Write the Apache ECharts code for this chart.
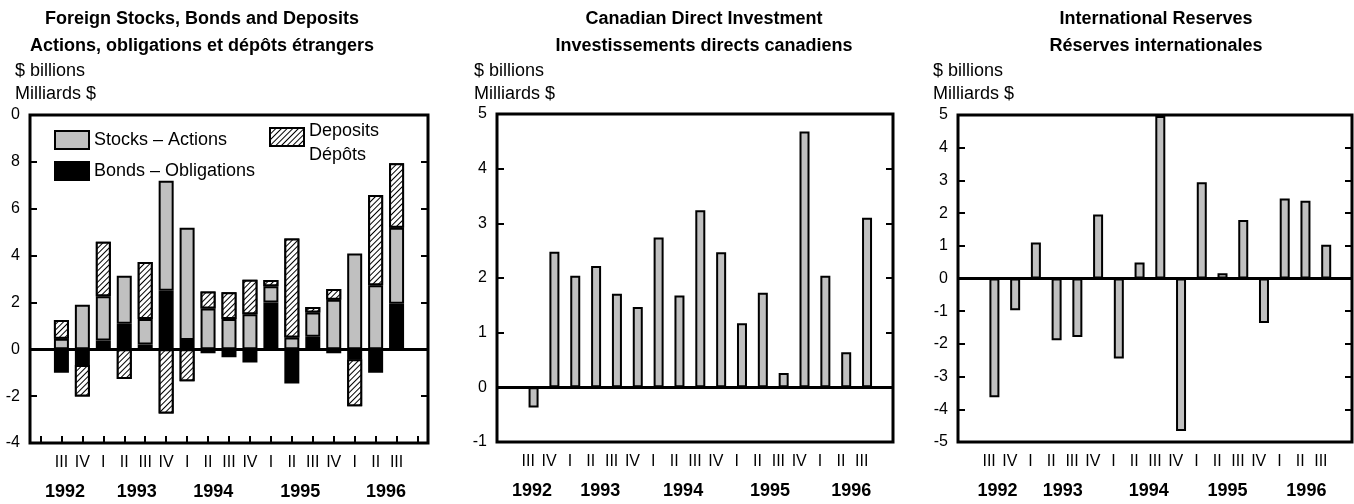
<!DOCTYPE html>
<html>
<head>
<meta charset="utf-8">
<title>Foreign investment charts</title>
<script src="https://cdn.jsdelivr.net/npm/echarts@6/dist/echarts.min.js"></script>
<style>
html, body { margin: 0; padding: 0; background: #fff; }
#chart { width: 1354px; height: 504px; }
</style>
</head>
<body>
<div id="chart"></div>
<script>
// quarter slots, with an empty slot at each end
const quarters = ['', 'III', 'IV', 'I', 'II', 'III', 'IV', 'I', 'II', 'III', 'IV', 'I', 'II', 'III', 'IV', 'I', 'II', 'III', '']
const years = ['1992', '1993', '1994', '1995', '1996']

// Foreign stocks, bonds and deposits ($ billions), 1992 III .. 1996 III
const stocks = [0.45, 1.9, 1.89, 2.05, 1.09, 4.69, 4.79, 1.74, 1.29, 1.5, 0.69, 0.5, 1.03, 2.11, 4.09, 2.73, 3.25]
const bonds = [-1.0, -0.67, 0.37, 1.09, 0.2, 2.5, 0.4, -0.17, -0.34, -0.56, 2.0, -1.46, 0.54, -0.17, -0.43, -1.0, 1.94]
const deposits = [0.8, -1.35, 2.33, -1.27, 2.44, -2.74, -1.36, 0.73, 1.14, 1.47, 0.27, 4.23, 0.23, 0.46, -2.0, 3.86, 2.75]

// Canadian direct investment
const directInv = [-0.37, 2.48, 2.04, 2.22, 1.71, 1.47, 2.74, 1.68, 3.24, 2.47, 1.17, 1.73, 0.26, 4.68, 2.04, 0.64, 3.10]

// International reserves
const reserves = [-3.63, -0.97, 1.10, -1.89, -1.79, 1.96, -2.45, 0.49, 4.97, -4.66, 2.94, 0.16, 1.79, -1.36, 2.45, 2.38, 1.03]

const FONT = '"Liberation Sans", Arial, sans-serif'
const GRAY = '#c0c0c0'

// layout of the three panels
const panels = [
  {grid: {left: 30, right: 926, top: 115, bottom: 61}, min: -4, max: 10, interval: 2, titleX: 202, unitX: 15,
    yearPos: [1.17, 4.6, 8.25, 12.4, 16.5], bottomTicks: true},
  {grid: {left: 497, right: 461, top: 114, bottom: 62}, min: -1, max: 5, interval: 1, titleX: 704, unitX: 474,
    yearPos: [1.18, 4.45, 8.43, 12.6, 16.5], bottomTicks: false},
  {grid: {left: 958, right: 2, top: 115, bottom: 62}, min: -5, max: 5, interval: 1, titleX: 1156, unitX: 933,
    yearPos: [1.41, 4.55, 8.7, 12.5, 16.3], bottomTicks: false}
]
const titles = [
  'Foreign Stocks, Bonds and Deposits\nActions, obligations et dépôts étrangers',
  'Canadian Direct Investment\nInvestissements directs canadiens',
  'International Reserves\nRéserves internationales'
]

const pad = arr => ['-', ...arr, '-']

const hatch = {
  symbol: 'rect',
  symbolSize: 1,
  color: '#000',
  backgroundColor: '#fff',
  dashArrayX: [1, 0],
  dashArrayY: [1, 3],
  rotation: -Math.PI / 4
}

const zeroLine = {
  silent: true,
  symbol: 'none',
  label: {show: false},
  lineStyle: {color: '#000', width: 3, type: 'solid'},
  data: [{yAxis: 0}]
}

const grid = [], xAxis = [], yAxis = [], title = []
panels.forEach((p, i) => {
  grid.push(Object.assign({show: true, borderColor: '#000', borderWidth: 3, backgroundColor: 'transparent'}, p.grid))
  xAxis.push({
    type: 'category',
    gridIndex: i,
    data: quarters,
    axisLine: {show: false, onZero: false},
    axisTick: {show: p.bottomTicks, inside: true, length: 7, interval: 0, alignWithLabel: true,
      lineStyle: {color: '#000', width: 2}},
    axisLabel: {interval: 0, color: '#000', fontFamily: FONT, fontSize: 16, margin: 12}
  })
  // years sit between the quarter labels
  xAxis.push({
    type: 'value',
    gridIndex: i,
    position: 'bottom',
    min: -0.5,
    max: 18.5,
    axisLine: {show: false, onZero: false},
    axisTick: {show: false},
    splitLine: {show: false},
    axisLabel: {
      customValues: p.yearPos,
      formatter: v => years[p.yearPos.indexOf(v)] || '',
      color: '#000', fontFamily: FONT, fontSize: 18, fontWeight: 'bold', margin: 40
    }
  })
  const yBase = {
    type: 'value',
    gridIndex: i,
    min: p.min,
    max: p.max,
    interval: p.interval,
    axisLine: {show: false, onZero: false},
    splitLine: {show: false},
    axisTick: {show: true, inside: true, length: 7, lineStyle: {color: '#000', width: 2}}
  }
  yAxis.push(Object.assign({}, yBase, {
    position: 'left',
    axisLabel: {color: '#000', fontFamily: FONT, fontSize: 16, margin: 10, padding: [4, 0, 0, 0],
      formatter: v => (i === 0 && v === 10 ? '0' : String(v))}
  }))
  yAxis.push(Object.assign({}, yBase, {position: 'right', axisLabel: {show: false}}))
  title.push({
    text: titles[i],
    left: p.titleX,
    top: 6,
    padding: 0,
    textAlign: 'center',
    textStyle: {fontFamily: FONT, fontSize: 18, fontWeight: 'bold', lineHeight: 27, color: '#000'}
  })
  title.push({
    text: '$ billions\nMilliards $',
    left: p.unitX,
    top: 60,
    padding: 0,
    textStyle: {fontFamily: FONT, fontSize: 18, fontWeight: 'normal', lineHeight: 23, color: '#000'}
  })
})

const barStyle = color => ({color: color, borderColor: '#000', borderWidth: 2})

const series = [
  {name: 'Bonds – Obligations', type: 'bar', stack: 'fsbd', xAxisIndex: 0, yAxisIndex: 0,
    barWidth: 15, itemStyle: barStyle('#000'), data: pad(bonds), markLine: zeroLine},
  {name: 'Stocks – Actions', type: 'bar', stack: 'fsbd', xAxisIndex: 0, yAxisIndex: 0,
    barWidth: 15, itemStyle: barStyle(GRAY), data: pad(stocks)},
  {name: 'Deposits', type: 'bar', stack: 'fsbd', xAxisIndex: 0, yAxisIndex: 0,
    barWidth: 15, itemStyle: Object.assign(barStyle('#fff'), {decal: hatch}), data: pad(deposits)},
  // empty spacer so the single bars sit a little right of the quarter label, as in the original
  {name: 'spacer2', type: 'bar', xAxisIndex: 2, yAxisIndex: 2, barWidth: 10.6, barGap: 0, data: []},
  {name: 'Canadian Direct Investment', type: 'bar', xAxisIndex: 2, yAxisIndex: 2,
    barWidth: 10, barGap: 0, itemStyle: barStyle(GRAY), data: pad(directInv), markLine: zeroLine},
  {name: 'spacer3', type: 'bar', xAxisIndex: 4, yAxisIndex: 4, barWidth: 10.6, barGap: 0, data: []},
  {name: 'International Reserves', type: 'bar', xAxisIndex: 4, yAxisIndex: 4,
    barWidth: 10, barGap: 0, itemStyle: barStyle(GRAY), data: pad(reserves), markLine: zeroLine}
]

const legendBase = {
  orient: 'vertical',
  padding: 0,
  itemWidth: 34,
  itemHeight: 18,
  selectedMode: false,
  icon: 'rect',
  textStyle: {fontFamily: FONT, fontSize: 18, color: '#000'}
}

const option = {
  animation: false,
  backgroundColor: '#fff',
  title: title,
  legend: [
    Object.assign({}, legendBase, {data: ['Stocks – Actions'], left: 54, top: 130}),
    Object.assign({}, legendBase, {data: ['Bonds – Obligations'], left: 54, top: 161}),
    // two-line label: first line a bit above the box centre, second below
    Object.assign({}, legendBase, {data: ['Deposits'], left: 269, top: 122,
      formatter: () => '{a|Deposits}\n{b|Dépôts}',
      textStyle: Object.assign({}, legendBase.textStyle, {
        rich: {
          a: {fontFamily: FONT, fontSize: 18, color: '#000', lineHeight: 36},
          b: {fontFamily: FONT, fontSize: 18, color: '#000', lineHeight: 12}
        }
      })})
  ],
  grid: grid,
  xAxis: xAxis,
  yAxis: yAxis,
  series: series
}

const chart = echarts.init(document.getElementById('chart'))
chart.setOption(option)
</script>
</body>
</html>
